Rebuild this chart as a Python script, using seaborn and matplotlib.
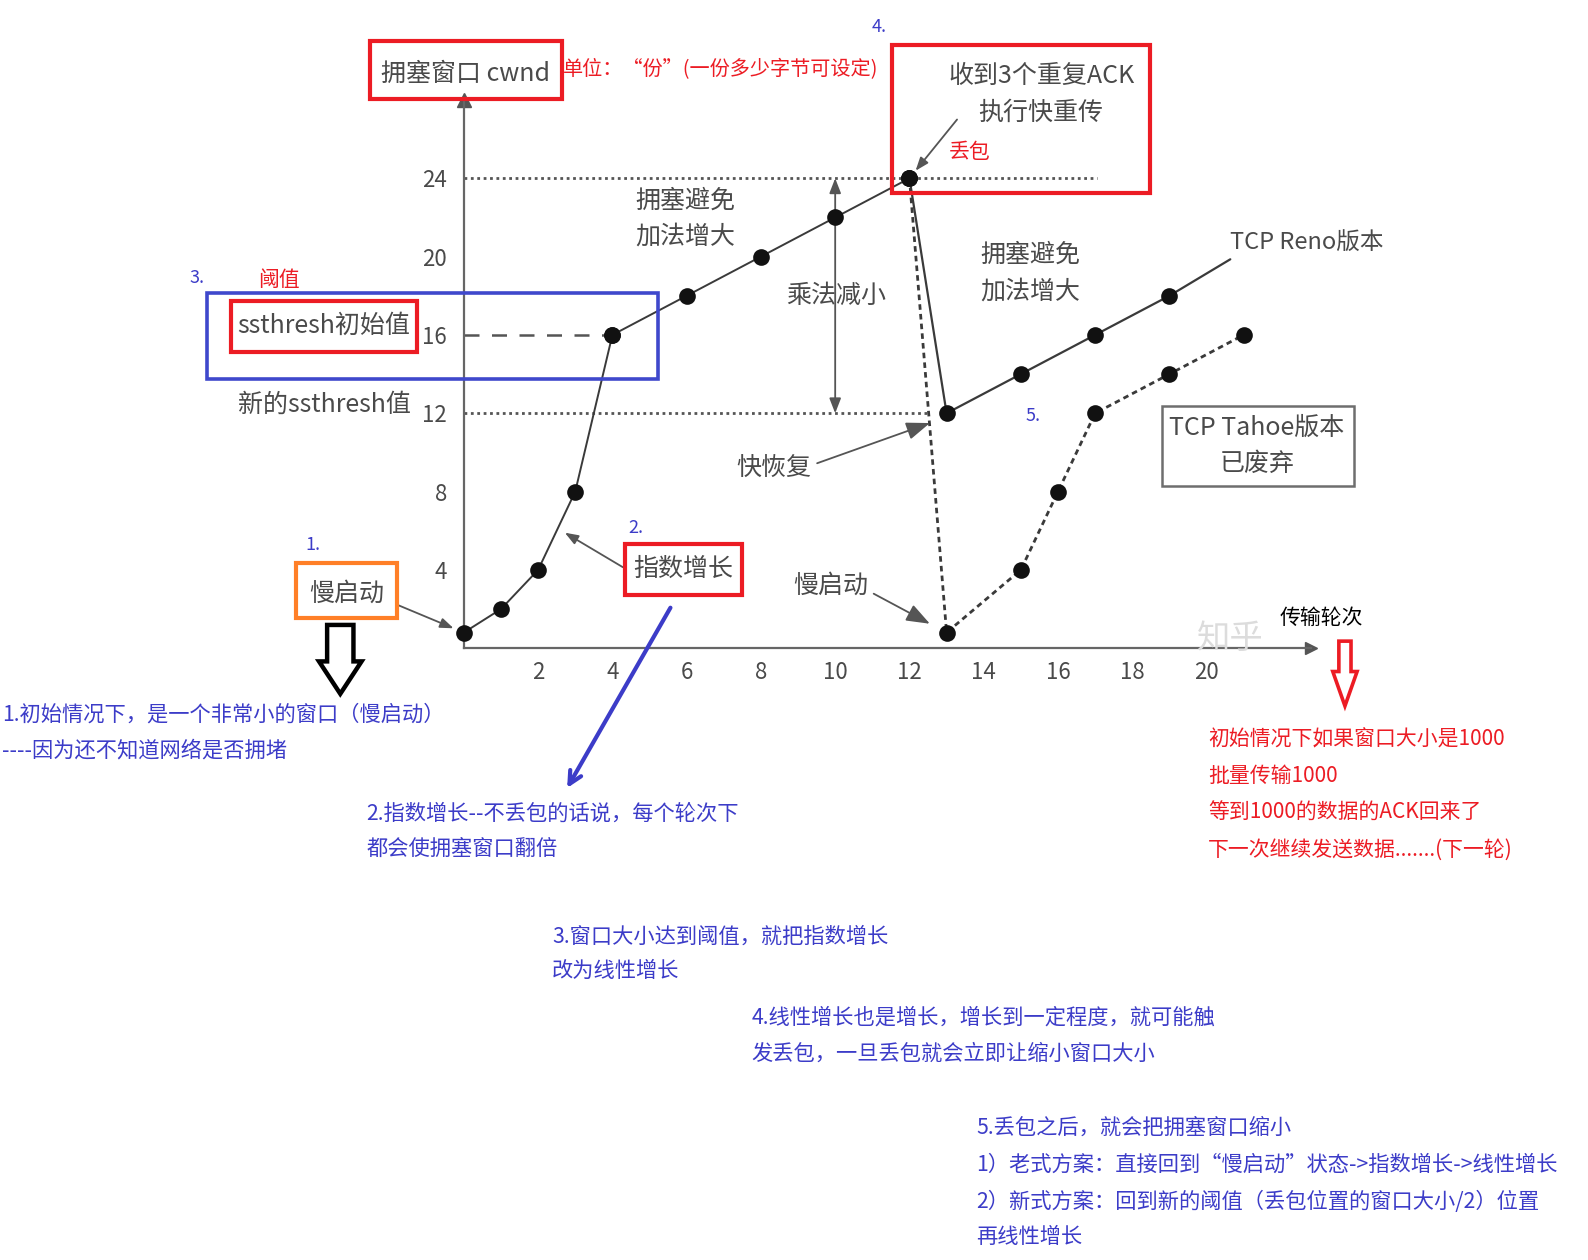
import matplotlib
matplotlib.use("Agg")
import matplotlib.pyplot as plt
import seaborn as sns
from matplotlib.patches import Rectangle, FancyArrow

# values (transmission round -> cwnd)
slow_x = [0, 1, 2, 3, 4]
slow_y = [0.8, 2, 4, 8, 16]
linear_x = [4, 6, 8, 10, 12]
linear_y = [16, 18, 20, 22, 24]
reno_x = [12, 13, 15, 17, 19]
reno_y = [24, 12, 14, 16, 18]
tahoe_x = [12, 13, 15, 16, 17, 19, 21]
tahoe_y = [24, 0.8, 4, 8, 12, 14, 16]
ssthresh_init = 16
ssthresh_new = 12
cwnd_peak = 24
x_ticks = list(range(2, 21, 2))
y_ticks = list(range(4, 25, 4))

blue_notes = [
    "1.初始情况下，是一个非常小的窗口（慢启动）",
    "----因为还不知道网络是否拥堵",
    "2.指数增长--不丢包的话说，每个轮次下",
    "都会使拥塞窗口翻倍",
    "3.窗口大小达到阈值，就把指数增长",
    "改为线性增长",
    "4.线性增长也是增长，增长到一定程度，就可能触",
    "发丢包，一旦丢包就会立即让缩小窗口大小",
    "5.丢包之后，就会把拥塞窗口缩小",
    "1）老式方案：直接回到“慢启动”状态->指数增长->线性增长",
    "2）新式方案：回到新的阈值（丢包位置的窗口大小/2）位置",
    "再线性增长",
]
red_notes = [
    "初始情况下如果窗口大小是1000",
    "批量传输1000",
    "等到1000的数据的ACK回来了",
    "下一次继续发送数据.......(下一轮)",
]

GRAY = "#4a4a4a"
LINE = "#3a3a3a"
BLUE = "#3c3cc8"
RED = "#ec1c24"
ORANGE = "#ff7f27"

sns.set_style("white")
plt.rcParams["font.family"] = ["Noto Sans CJK SC", "DejaVu Sans"]

fig = plt.figure(figsize=(15.88, 12.6), dpi=100)
W, H = 1568, 1244  # layout grid in reference pixels

# chart axes: origin at (458, 640), 36.67 px per round, 19.33 px per cwnd unit
ax = fig.add_axes([458 / W, 1 - 640 / H, 836 / W, 541.3 / H])
ax.set_xlim(0, 22.8)
ax.set_ylim(0, 28)
ax.patch.set_alpha(0)

ov = fig.add_axes([0, 0, 1, 1], zorder=5)
ov.set_xlim(0, W)
ov.set_ylim(H, 0)
ov.axis("off")
ov.patch.set_alpha(0)

# axes look
sns.despine(ax=ax)
for s in ["left", "bottom"]:
    ax.spines[s].set_color("#666666")
    ax.spines[s].set_linewidth(1.6)
ax.plot(0, 1, marker="^", ms=10, color="#555555", transform=ax.transAxes, clip_on=False)
ax.plot(1, 0, marker=">", ms=9, color="#555555", transform=ax.transAxes, clip_on=False)
ax.set_xticks(x_ticks)
ax.set_yticks(y_ticks)
ax.tick_params(axis="x", direction="in", length=11, width=1.5, color="#666666",
               pad=9, labelsize=16, labelcolor=GRAY)
ax.tick_params(axis="y", direction="in", length=16, width=1.5, color="#666666",
               pad=12, labelsize=16, labelcolor=GRAY)
ax.set_xlabel("")
ax.set_ylabel("")

# reference lines
dot = (0, (1, 1.3))
ax.hlines(cwnd_peak, 0, 17.05, colors="#555555", linestyles=dot, lw=2)
ax.hlines(ssthresh_new, 0, 12.55, colors="#555555", linestyles=dot, lw=2)
ax.hlines(ssthresh_init, 0, 4, colors="#555555", linestyles=(0, (6, 5)), lw=1.8)
ax.annotate("", xy=(10, ssthresh_new), xytext=(10, cwnd_peak),
            arrowprops=dict(arrowstyle="<|-|>,head_length=0.9,head_width=0.35",
                            color="#555555", lw=1.3, shrinkA=0, shrinkB=0))

# series
kw = dict(ax=ax, color=LINE, marker="o", markersize=12, markeredgewidth=0,
          markerfacecolor="#111111", estimator=None, sort=False, legend=False,
          clip_on=False, zorder=4)
sns.lineplot(x=slow_x, y=slow_y, lw=1.4, **kw)
sns.lineplot(x=linear_x, y=linear_y, lw=1.4, **kw)
sns.lineplot(x=tahoe_x, y=tahoe_y, lw=2, linestyle=(0, (2, 1.5)), **kw)
sns.lineplot(x=reno_x, y=reno_y, lw=1.6, **kw)

# gray chart annotations
arr = dict(arrowstyle="-|>,head_length=0.8,head_width=0.3", color="#555555", lw=1.3)
tc = ov.transData
ax.annotate("TCP Reno版本", xy=(reno_x[-1], reno_y[-1]), xytext=(1290, 240), textcoords=tc,
            ha="center", va="center", fontsize=17, color=GRAY,
            arrowprops=dict(arrowstyle="-", color=LINE, lw=1.6, relpos=(0.08, 0.1), shrinkB=0))
ax.annotate("快恢复", xy=(12.55, 11.5), xytext=(764, 462), textcoords=tc,
            ha="center", va="center", fontsize=18, color=GRAY,
            arrowprops=dict(relpos=(1, 0.6), shrinkB=0, **arr))
ax.annotate("慢启动", xy=(12.55, 1.25), xytext=(820, 578), textcoords=tc,
            ha="center", va="center", fontsize=18, color=GRAY,
            arrowprops=dict(relpos=(1, 0.3), shrinkB=0, **arr))
ax.annotate("", xy=(cwnd_peak / 2, cwnd_peak), xytext=(945, 118), textcoords=tc,
            arrowprops=dict(shrinkA=0, shrinkB=7, **arr))
ax.annotate("", xy=(slow_x[0], slow_y[0]), xytext=(392, 597), textcoords=tc,
            arrowprops=dict(shrinkA=0, shrinkB=8, **arr))
ax.annotate("", xy=(2.72, 5.9), xytext=(615, 560), textcoords=tc,
            arrowprops=dict(shrinkA=0, shrinkB=0, **arr))

gray_text = [
    ("拥塞窗口 cwnd", 460, 73), ("拥塞避免", 677, 198), ("加法增大", 677, 234),
    ("乘法减小", 826, 292), ("拥塞避免", 1017, 251), ("加法增大", 1017, 288),
    ("收到3个重复ACK", 1028, 75), ("执行快重传", 1028, 111),
    ("ssthresh初始值", 320, 322), ("新的ssthresh值", 320, 400),
    ("TCP Tahoe版本", 1241, 422), ("已废弃", 1241, 458),
    ("慢启动", 342, 586), ("指数增长", 675, 562),
]
for t, x, y in gray_text:
    ov.text(x, y, t, ha="center", va="center", fontsize=18, color=GRAY)
ov.text(1215, 630, "知乎", ha="center", va="center", fontsize=24, color="#dcdcdc", zorder=0)

# boxes drawn over the chart
boxes = [
    (365, 40, 555, 98, RED, 3), (881, 44, 1136, 191, RED, 3),
    (228, 297, 412, 348, RED, 3), (617, 537, 733, 587, RED, 3),
    (204, 289, 650, 374, "#3f48cc", 2.6), (292, 556, 392, 610, ORANGE, 3),
    (1147, 401, 1337, 480, "#6e6e6e", 1.8),
]
for x0, y0, x1, y1, c, lw in boxes:
    ov.add_patch(Rectangle((x0, y0), x1 - x0, y1 - y0, fill=False, ec=c, lw=lw))

# small labels
for t, x, y in [("1.", 309, 538), ("2.", 628, 521), ("3.", 195, 274), ("4.", 868, 27), ("5.", 1020, 411)]:
    ov.text(x, y, t, ha="center", va="center", fontsize=13, color=BLUE)
ov.text(275, 276, "阈值", ha="center", va="center", fontsize=15, color=RED)
ov.text(957, 150, "丢包", ha="center", va="center", fontsize=15, color=RED)
ov.text(556, 69, "单位：“份”(一份多少字节可设定)", ha="left", va="center", fontsize=14.5, color=RED)
ov.text(1305, 610, "传输轮次", ha="center", va="center", fontsize=15, color="black")

# hand-drawn arrows
ov.add_patch(FancyArrow(336, 617, 0, 68, width=26, head_width=42, head_length=32,
                        length_includes_head=True, fc="white", ec="black", lw=3.2))
ov.add_patch(FancyArrow(1328, 633, 0, 64, width=12, head_width=24, head_length=34,
                        length_includes_head=True, fc="white", ec=RED, lw=2.6))
ov.annotate("", xy=(560, 778), xytext=(662, 600),
            arrowprops=dict(arrowstyle="->,head_length=0.9,head_width=0.45",
                            color=BLUE, lw=3, shrinkA=0, shrinkB=0))

# notes below the chart
blue_pos = [(2, 705), (2, 741), (362, 803), (362, 838), (545, 925), (545, 959),
            (742, 1005), (742, 1040), (964, 1113), (964, 1150), (964, 1187), (964, 1221)]
for t, (x, y) in zip(blue_notes, blue_pos):
    ov.text(x, y, t, ha="left", va="center", fontsize=15.3, color=BLUE)
for i, t in enumerate(red_notes):
    ov.text(1193, 730 + 36.3 * i, t, ha="left", va="center", fontsize=15, color=RED)

fig.savefig("out.png", dpi=100)
